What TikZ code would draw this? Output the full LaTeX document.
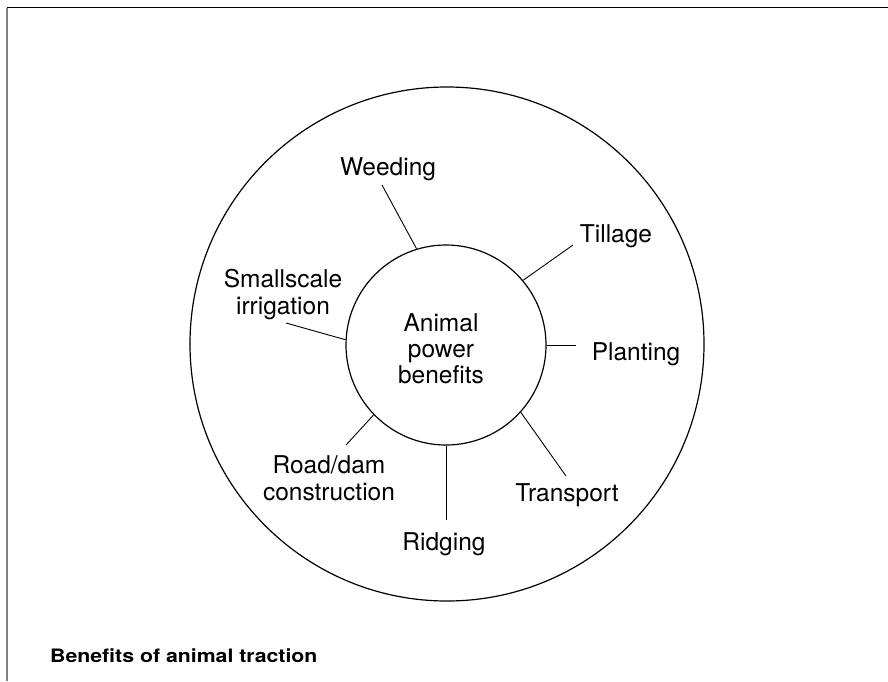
\documentclass[tikz,border=0pt]{standalone}
\usepackage{fontspec}
\setmainfont{TeX Gyre Heros}
\newfontfamily\capfont[FakeStretch=1.15]{TeX Gyre Heros}
\usepackage{tikz}
\usetikzlibrary{positioning}

\begin{document}
\begin{tikzpicture}[x=1pt,y=-1pt,
	hub node/.style={circle,draw,line width=1.2pt,minimum size=200pt,inner sep=0pt},
	rim node/.style={circle,draw,line width=1.2pt,minimum size=514pt,inner sep=0pt},
	item node/.style={anchor=base,align=center,inner sep=0pt,font=\fontsize{24.5}{26.5}\selectfont},
	spoke/.style={line width=0.9pt}]

	\useasboundingbox (0,0) rectangle (888,681);
	\draw[line width=1pt] (7,7.5) -- (888,7.5);
	\draw[gray,line width=1.3pt] (7,7.5) -- (7,681);

	\node[rim node] (rim) at (447,344) {};
	\node[hub node] (hub) at (446,345) {};
	\node[item node,font=\fontsize{24.5}{26}\selectfont] (hub text) at (441,383) {Animal\\power\\benefits};

	\node[item node] (weed) at (388,175) {Weeding};
	\node[item node] (till) at (616,242) {Tillage};
	\node[item node] (plant) at (636,360) {Planting};
	\node[item node] (trans) at (567,501.5) {Transport};
	\node[item node] (ridge) at (444,550) {Ridging};
	\node[item node] (road) at (329,500) {Road/dam\\construction};
	\node[item node] (irrig) at (283,314) {Smallscale\\irrigation};

	\coordinate (weed end) at (382,185);
	\coordinate (till end) at (573,245);
	\coordinate (plant end) at (576,345);
	\coordinate (trans end) at (566,476);
	\coordinate (ridge end) at (446,520);
	\coordinate (road end) at (346,445);
	\coordinate (irrig end) at (286,323);

	\path[spoke]
	(hub.107.4)	edge (weed end)
	(hub.40.2)	edge (till end)
	(hub.0)		edge (plant end)
	(hub.-42.6)	edge (trans end)
	(hub.-90)	edge (ridge end)
	(hub.224.6)	edge (road end)
	(hub.177.7)	edge (irrig end);

	\node[anchor=base west,inner sep=0pt,font=\capfont\fontsize{18.5}{22}\selectfont\bfseries] (caption) at (50,662) {Benefits of animal traction};
\end{tikzpicture}
\end{document}
